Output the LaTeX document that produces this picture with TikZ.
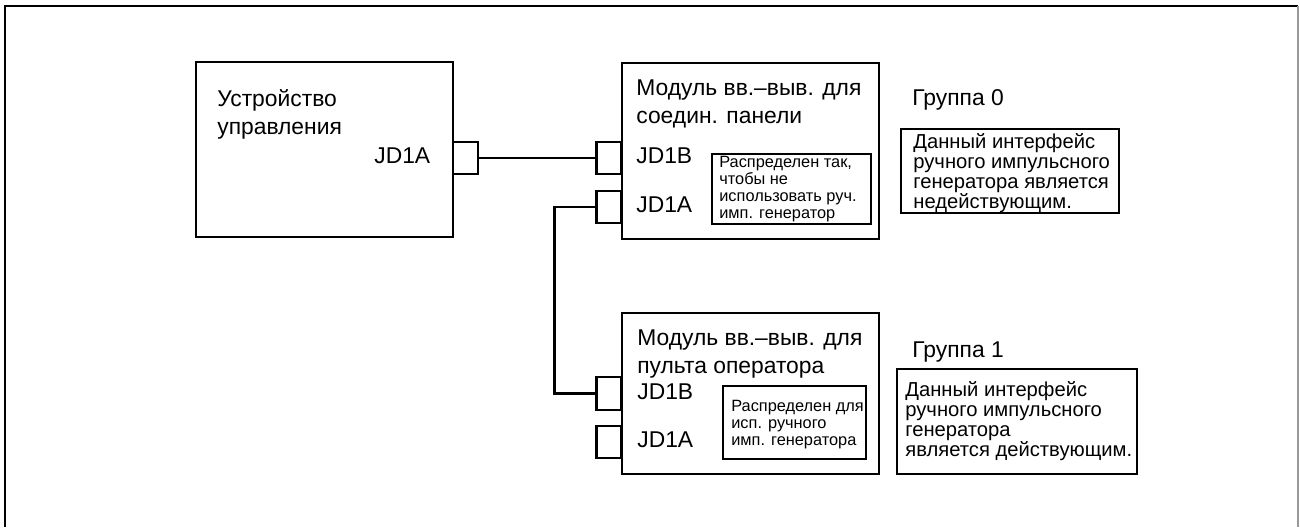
\documentclass[tikz,border=0pt]{standalone}
\usepackage{fontspec}
\setmainfont{Liberation Sans}

\tikzset{
	box/.style={draw, line width=1.2pt, inner sep=0pt},
	conn/.style={box, minimum width=0.5cm, minimum height=0.64cm},
	txt/.style={anchor=base west, inner sep=0pt, align=left},
	big/.style={font=\fontsize{13}{15.9}\selectfont},
	mid/.style={font=\fontsize{11.5}{11.3}\selectfont},
	small/.style={font=\fontsize{9.3}{9.64}\selectfont},
	wire/.style={line width=1.2pt},
}

\begin{document}
\begin{tikzpicture}[x=0.02cm, y=-0.02cm]
				\useasboundingbox (0,0) rectangle (1300,527);
				\draw[line width=1.6pt] (5,527) -- (5,6) -- (1298,6);
				\draw[black!40, line width=0.6pt] (1298,6) -- (1298,527);
				
				% base west sits on the last line of each text
				\node[box, minimum width=5.14cm, minimum height=3.5cm] (cnc) at (324.5,149.5) {};
				\node[txt, big] (cnclabel) at (217,134) {Устройство\\управления};
				\node[txt, big] (cncport) at (374,163) {JD1A};
				\node[conn] (cncjda) at (465.5,158) {};
				
				\node[box, minimum width=5.14cm, minimum height=3.52cm] (pnl) at (750.5,151) {};
				\node[txt, big] (pnllabel) at (636,123) {Модуль вв.–выв. для\\соедин. панели};
				\node[txt, big] (pnlportb) at (636,163) {JD1B};
				\node[txt, big] (pnlporta) at (636,212) {JD1A};
				\node[conn] (pnljdb) at (609,158) {};
				\node[conn] (pnljda) at (609,207) {};
				\node[box, minimum width=3.18cm, minimum height=1.4cm] (pnlnote) at (791.5,189) {};
				\node[txt, small] (pnlnotetxt) at (719,218) {Распределен так,\\чтобы не\\использовать руч.\\имп. генератор};
				
				\node[box, minimum width=5.14cm, minimum height=3.22cm] (opr) at (750.5,393.5) {};
				\node[txt, big] (oprlabel) at (637,373) {Модуль вв.–выв. для\\пульта оператора};
				\node[txt, big] (oprportb) at (637,399) {JD1B};
				\node[txt, big] (oprporta) at (637,447) {JD1A};
				\node[conn, minimum height=0.66cm] (oprjdb) at (609,393.5) {};
				\node[conn] (oprjda) at (609,442) {};
				\node[box, minimum width=2.86cm, minimum height=1.46cm] (oprnote) at (794.5,422.5) {};
				\node[txt, small] (oprnotetxt) at (731,445) {Распределен для\\исп. ручного\\имп. генератора};
				
				\node[txt, big] (grp0) at (912,106) {Группа 0};
				\node[box, minimum width=4.36cm, minimum height=1.68cm] (grp0box) at (1010,171) {};
				\node[txt, mid] (grp0txt) at (913,208) {Данный интерфейс\\ручного импульсного\\генератора является\\недействующим.};
				
				\node[txt, big] (grp1) at (912,357) {Группа 1};
				\node[box, minimum width=4.8cm, minimum height=2.1cm] (grp1box) at (1017,421.5) {};
				\node[txt, mid] (grp1txt) at (905,456) {Данный интерфейс\\ручного импульсного\\генератора\\является действующим.};
				
				\draw[wire] (cncjda.east) -- (pnljdb.west);
				\draw[wire] (pnljda.west) -- ++(-41,0) |- (oprjdb.west);
			\end{tikzpicture}
\end{document}
